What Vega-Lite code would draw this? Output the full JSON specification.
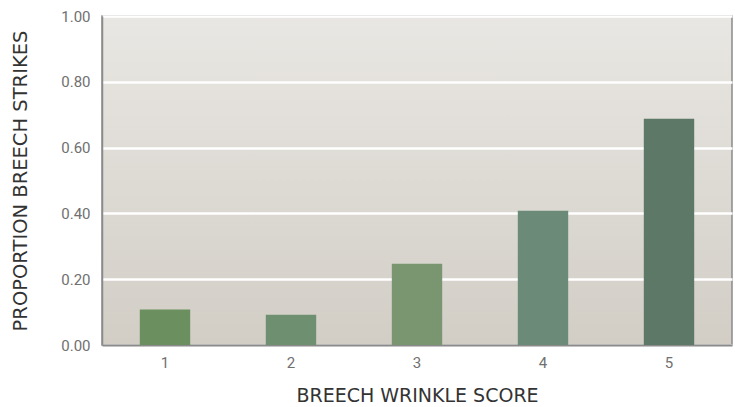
{
  "$schema": "https://vega.github.io/schema/vega-lite/v6.json",
  "width": 630,
  "height": 329,
  "autosize": {"type": "none"},
  "padding": {"left": 102, "top": 16, "right": 3, "bottom": 62},
  "background": "#ffffff",
  "config": {
    "view": {
      "stroke": "#8a8a8a",
      "strokeWidth": 1.5,
      "fill": {"gradient": "linear", "x1": 0, "y1": 0, "x2": 0, "y2": 1, "stops": [{"offset": 0, "color": "#e9e7e3"}, {"offset": 1, "color": "#d2cec6"}]}
    },
    "font": "DejaVu Sans"
  },
  "data": {
    "values": [
      {"score": "1", "proportion": 0.108, "color": "#6b8f5e"},
      {"score": "2", "proportion": 0.092, "color": "#6f9070"},
      {"score": "3", "proportion": 0.247, "color": "#7a9670"},
      {"score": "4", "proportion": 0.408, "color": "#6b8a78"},
      {"score": "5", "proportion": 0.688, "color": "#5d7866"}
    ]
  },
  "mark": {"type": "bar"},
  "encoding": {
    "x": {
      "field": "score",
      "type": "ordinal",
      "scale": {"paddingInner": 0.6, "paddingOuter": 0.3},
      "axis": {
        "title": "BREECH WRINKLE SCORE",
        "labelAngle": 0,
        "labelFont": "Roboto",
        "labelFontSize": 15,
        "labelColor": "#707070",
        "labelPadding": 10,
        "ticks": false,
        "domainColor": "#8a8a8a",
        "domainWidth": 2,
        "titleFont": "DejaVu Sans",
        "titleFontSize": 19,
        "titleFontWeight": "normal",
        "titleColor": "#333333",
        "titlePadding": 16
      }
    },
    "y": {
      "field": "proportion",
      "type": "quantitative",
      "scale": {"domain": [0, 1]},
      "axis": {
        "title": "PROPORTION BREECH STRIKES",
        "values": [0, 0.2, 0.4, 0.6, 0.8, 1.0],
        "format": ".2f",
        "labelFont": "Roboto",
        "labelFontSize": 15,
        "labelColor": "#707070",
        "labelPadding": 12,
        "ticks": false,
        "domainColor": "#8a8a8a",
        "domainWidth": 1.5,
        "grid": true,
        "gridColor": "#ffffff",
        "gridWidth": 2.5,
        "titleFont": "DejaVu Sans",
        "titleFontSize": 19.5,
        "titleFontWeight": "normal",
        "titleColor": "#333333",
        "titlePadding": 30
      }
    },
    "color": {"field": "color", "type": "nominal", "scale": null, "legend": null}
  }
}
